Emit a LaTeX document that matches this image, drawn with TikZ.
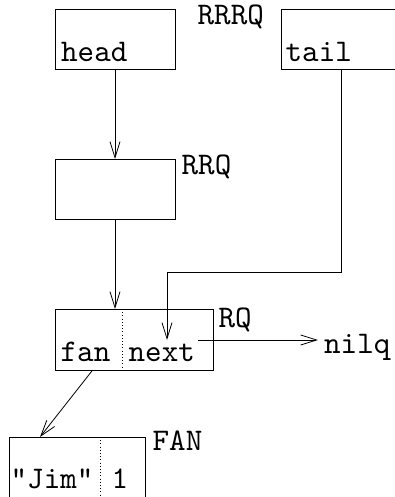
\documentclass[tikz,border=0pt]{standalone}
\usepackage{fontspec}
\newfontfamily\lmttten{lmmono10-regular.otf}
\usetikzlibrary{arrows.meta}
\begin{document}
\begin{tikzpicture}[x=1pt,y=-1pt,
  box/.style={draw,line width=0.8pt,minimum width=120pt,minimum height=60pt,inner sep=0pt,outer sep=0pt},
  lbl/.style={font=\lmttten\fontsize{31.5}{36}\selectfont,inner sep=0pt,anchor=base west},
  arr/.style={line width=0.8pt,-{Straight Barb[length=16pt,width=10pt,line width=0.8pt]}},
  ln/.style={line width=0.8pt},
  dots/.style={line width=0.9pt,dash pattern=on 1pt off 2.2pt}]
\useasboundingbox (0,0) rectangle (395,497);
% boxes
\node[box] (headbox) at (115,39) {};
\node[box] (tailbox) at (341,39) {};
\node[box] (rrqbox) at (115,189) {};
\node[box,minimum width=158pt,minimum height=61pt] (rqbox) at (134,339.5) {};
\node[box,minimum width=135.5pt,minimum height=61pt] (fanbox) at (77.25,467.5) {};
% dividers
\draw[dots] (122.7,309) -- (122.7,370);
\draw[dots] (100,437) -- (100,498);
% labels
\node[lbl] (rrrqlbl) at (197.5,24.5) {RRRQ};
\node[lbl] (headlbl) at (61,61.7) {head};
\node[lbl] (taillbl) at (285.5,61.7) {tail};
\node[lbl] (rrqlbl) at (181.5,175) {RRQ};
\node[lbl] (rqlbl) at (218.5,327) {RQ};
\node[lbl] (fanlbl) at (60.5,361.7) {fan};
\node[lbl] (nextlbl) at (128.5,361.7) {next};
\node[lbl] (nilq) at (324,353) {nilq};
\node[lbl] (FANlbl) at (152.5,450.7) {FAN};
\node[lbl] (jimlbl) at (10.5,488) {"Jim"};
\node[lbl] (onelbl) at (111.5,488) {1};
% connectors
\coordinate (tailbend) at (167,272);
\coordinate (tailend) at (167,340);
\coordinate (nextptr) at (198,340);
\coordinate (nilqin) at (318,340);
\coordinate (fanptr) at (92.7,370);
\coordinate (fanin) at (40,437);
\draw[arr] (headbox.south) -- (rrqbox.north);
\draw[arr] (rrqbox.south) -- (rrqbox.south |- rqbox.north);
\draw[arr] (tailbox.south) |- (tailbend) -- (tailend);
\draw[arr] (nextptr) -- (nilqin);
\draw[arr] (fanptr) -- (fanin);
\end{tikzpicture}
\end{document}
